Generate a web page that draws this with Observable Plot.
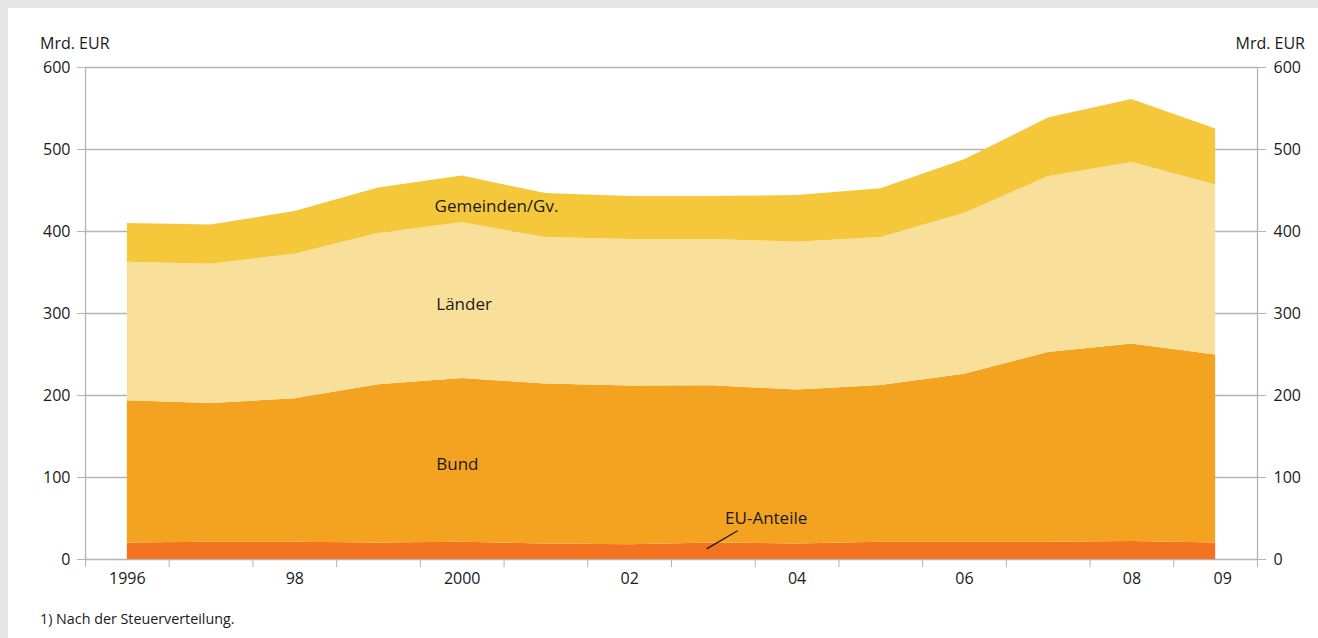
<!DOCTYPE html>
<html><head><meta charset="utf-8">
<script src="https://cdn.jsdelivr.net/npm/d3@7"></script>
<script src="https://cdn.jsdelivr.net/npm/@observablehq/plot@0.6"></script>
<style>
html,body{margin:0;padding:0;background:#e6e6e6;}
#wrap{position:relative;width:1318px;height:638px;overflow:hidden;}
#panel{position:absolute;left:8px;top:8px;right:0;bottom:0;background:#fff;}
#chart{position:absolute;left:0;top:0;}
.lbl{position:absolute;font-family:"Open Sans",sans-serif;font-size:16px;color:#1a1a1a;white-space:nowrap;}
</style></head><body>
<div id="wrap">
  <div id="panel"></div>
  <div id="chart"></div>
  <div class="lbl" style="left:40px;top:32px">Mrd. EUR</div>
  <div class="lbl" style="right:13px;top:32px">Mrd. EUR</div>
  <div class="lbl" style="left:40px;top:609px;font-size:14.3px">1) Nach der Steuerverteilung.</div>
</div>
<script>
// ---- data (Mrd. EUR) ----
const years = [1996, 1997, 1998, 1999, 2000, 2001, 2002, 2003, 2004, 2005, 2006, 2007, 2008, 2009];
const euAnteile = [20.0, 21.0, 21.0, 20.0, 21.0, 19.0, 18.0, 20.0, 19.0, 21.0, 21.0, 21.0, 22.0, 20.0];
const bund      = [173.5, 169.2, 174.9, 193.2, 199.7, 194.9, 193.5, 191.8, 187.6, 191.2, 205.0, 231.4, 240.7, 229.3];
const laender   = [168.9, 169.8, 176.5, 184.3, 189.9, 178.8, 178.7, 178.4, 180.4, 180.5, 195.8, 214.3, 221.4, 207.3];
const gemeinden = [47.4, 47.8, 51.9, 55.4, 57.0, 53.6, 52.5, 52.5, 56.9, 59.3, 65.6, 71.6, 76.9, 68.3];

const seriesNames = ["EU-Anteile", "Bund", "Länder", "Gemeinden/Gv."];
const seriesColors = ["#f37321", "#f4a321", "#f8e09a", "#f5c83c"];
const seriesValues = [euAnteile, bund, laender, gemeinden];

const yTicks = [0, 100, 200, 300, 400, 500, 600];
const xLabelYears = [1996, 1998, 2000, 2002, 2004, 2006, 2008];
const xLabelTexts = ["1996", "98", "2000", "02", "04", "06", "08"];
const xLastYear = [2009];
const xLastText = ["09"];

// label anchors (year, value) in data space
const labelNames = ["Gemeinden/Gv.", "Länder", "Bund", "EU-Anteile"];
const labelYears = [1999.67, 1999.69, 1999.69, 2003.14];
const labelValues = [431, 311, 116, 50];
const leaderFrom = {year: 2002.92, value: 13};
const leaderTo = {year: 2003.29, value: 35};

// ---- build ----
const rows = [];
seriesNames.forEach((s, i) => years.forEach((y, j) => rows.push({series: s, year: y, value: seriesValues[i][j]})));
const labels = labelNames.map((t, i) => ({text: t, year: labelYears[i], value: labelValues[i]}));
const xLabelMap = new Map(xLabelYears.map((y, i) => [y, xLabelTexts[i]]));
const bandEdges = d3.range(years[0] - 0.5, years[years.length - 1] + 1, 1);

const gray = "#b4b4b4";
const chart = Plot.plot({
  width: 1318, height: 638,
  marginLeft: 85, marginRight: 61, marginTop: 67, marginBottom: 79,
  style: {background: "transparent", fontFamily: "'Open Sans', sans-serif", fontSize: "16px", color: "#1a1a1a", overflow: "visible"},
  x: {domain: [bandEdges[0], bandEdges[bandEdges.length - 1]]},
  y: {domain: [0, 600]},
  color: {domain: seriesNames, range: seriesColors},
  marks: [
    Plot.gridY(yTicks, {stroke: gray, strokeOpacity: 1, strokeWidth: 1.3}),
    Plot.areaY(rows, {x: "year", y: "value", z: "series", fill: "series", order: seriesNames}),
    Plot.ruleX([bandEdges[0], bandEdges[bandEdges.length - 1]], {y1: 0, y2: 600, stroke: gray, strokeWidth: 1.3}),
    Plot.axisY({anchor: "left", ticks: yTicks, tickSize: 8, tickPadding: 7, stroke: gray, fill: "#1a1a1a", label: null}),
    Plot.axisY({anchor: "right", ticks: yTicks, tickSize: 8, tickPadding: 8, stroke: gray, fill: "#1a1a1a", label: null}),
    Plot.axisX({ticks: bandEdges, tickSize: 8, stroke: gray, tickFormat: () => "", label: null}),
    Plot.axisX({ticks: xLabelYears, tickSize: 0, tickPadding: 13, fill: "#1a1a1a", tickFormat: d => xLabelMap.get(d), label: null}),
    Plot.axisX({ticks: xLastYear, tickSize: 0, tickPadding: 13, dx: 7, fill: "#1a1a1a", tickFormat: () => xLastText[0], label: null}),
    Plot.text(labels, {x: "year", y: "value", text: "text", textAnchor: "start", fontSize: 17, fill: "#1a1a1a"}),
    Plot.link([{}], {x1: leaderFrom.year, y1: leaderFrom.value, x2: leaderTo.year, y2: leaderTo.value, stroke: "#1a1a1a", strokeWidth: 1.3})
  ]
});
document.getElementById("chart").appendChild(chart);
</script>
</body></html>
